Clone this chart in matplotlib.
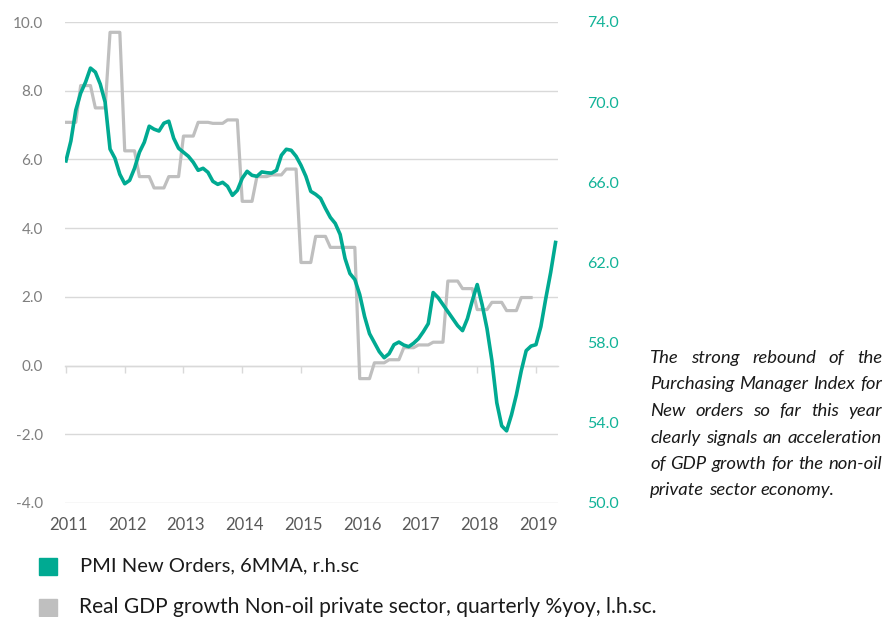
import matplotlib
matplotlib.use('Agg')
import matplotlib.pyplot as plt
import matplotlib.transforms as mtransforms
import numpy as np

plt.rcParams['font.family'] = ['Lato', 'DejaVu Sans']

# ---------------- data ----------------
# Real GDP growth, non-oil private sector, quarterly %yoy (2011Q1 .. 2018Q4), left scale
gdp_quarterly = [7.08, 8.15, 7.5, 9.7, 6.25, 5.5, 5.17, 5.5,
                 6.68, 7.08, 7.05, 7.15, 4.78, 5.5, 5.55, 5.72,
                 3.0, 3.76, 3.44, 3.44, -0.38, 0.08, 0.17, 0.52,
                 0.6, 0.68, 2.46, 2.24, 1.63, 1.84, 1.6, 1.98]

# PMI New Orders, 6MMA, monthly from Jan 2011, right scale
pmi_monthly = [67.07, 68.06, 69.6, 70.45, 71.0, 71.7, 71.5, 70.9, 70.0, 67.66,
               67.2, 66.4, 65.93, 66.1, 66.7, 67.5, 68.0, 68.8, 68.65, 68.56,
               68.95, 69.05, 68.2, 67.7, 67.5, 67.3, 67.0, 66.6, 66.7, 66.5,
               66.05, 65.9, 66.0, 65.8, 65.35, 65.6, 66.2, 66.55, 66.35, 66.3,
               66.52, 66.48, 66.46, 66.6, 67.35, 67.65, 67.6, 67.3, 66.85, 66.3,
               65.55, 65.4, 65.2, 64.7, 64.25, 63.95, 63.4, 62.2, 61.45, 61.15,
               60.4, 59.3, 58.45, 58.0, 57.55, 57.25, 57.45, 57.9, 58.03, 57.88,
               57.8, 57.97, 58.2, 58.55, 58.95, 60.5, 60.25, 59.9, 59.55, 59.2,
               58.85, 58.6, 59.2, 60.1, 60.9, 59.9, 58.7, 57.1, 55.0, 53.85,
               53.6, 54.4, 55.4, 56.6, 57.6, 57.83, 57.9, 58.8, 60.2, 61.5,
               63.0]

year_labels = ['2011', '2012', '2013', '2014', '2015', '2016', '2017', '2018', '2019']
left_ticks = [-4, -2, 0, 2, 4, 6, 8, 10]
right_ticks = [50, 54, 58, 62, 66, 70, 74]

legend_labels = ['PMI New Orders, 6MMA, r.h.sc',
                 'Real GDP growth Non-oil private sector, quarterly %yoy, l.h.sc.']

note_lines = ['The strong rebound of the',
              'Purchasing Manager Index for',
              'New orders so far this year',
              'clearly signals an acceleration',
              'of GDP growth for the non-oil',
              'private sector economy.']

# ---------------- styling ----------------
TEAL = '#00AA92'
TEAL_LABEL = '#12B398'
GREY = '#BFBFBF'
GRID = '#D9D9D9'
LABEL_GREY = '#7F7F7F'
YEAR_GREY = '#595959'

W, H = 890, 617
fig = plt.figure(figsize=(W / 100, H / 100), dpi=100)
ax_l, ax_r_px, ax_t, ax_b = 65, 558, 22, 503
ax = fig.add_axes([ax_l / W, 1 - ax_b / H, (ax_r_px - ax_l) / W, (ax_b - ax_t) / H])
ax2 = ax.twinx()

gdp_monthly = np.repeat(gdp_quarterly, 3)
x_gdp = np.arange(len(gdp_monthly))
x_pmi = np.arange(len(pmi_monthly))

ax.plot(x_gdp, gdp_monthly, color=GREY, lw=2.3, solid_joinstyle='round', zorder=3)
ax2.plot(x_pmi, pmi_monthly, color=TEAL, lw=2.6, solid_joinstyle='round', zorder=3)

ax.set_xlim(-0.2, 100.5)
ax.set_ylim(-4, 10)
ax2.set_ylim(50, 74)

ax.set_yticks(left_ticks)
ax.set_yticklabels([f'{v:.1f}' for v in left_ticks])
ax2.set_yticks(right_ticks)
ax2.set_yticklabels([f'{v:.1f}' for v in right_ticks])

ax.grid(axis='y', color=GRID, lw=1.0)
ax.set_axisbelow(True)

for a in (ax, ax2):
    for s in ('left', 'right', 'top'):
        a.spines[s].set_visible(False)
ax2.spines['bottom'].set_visible(False)

# x axis line through zero with small downward ticks every January
year_ticks = np.arange(0, 12 * len(year_labels), 12)
ax.spines['bottom'].set_position(('data', 0))
ax.spines['bottom'].set_color(GRID)
ax.spines['bottom'].set_linewidth(1.0)
ax.set_xticks(year_ticks)
ax.tick_params(axis='x', direction='out', length=5, width=1.0, color=GRID,
               labelbottom=False)

ax.tick_params(axis='y', length=0, pad=16, labelsize=11, labelcolor=LABEL_GREY)
ax2.tick_params(axis='y', length=0, pad=21, labelsize=11.5, labelcolor=TEAL_LABEL)

# year labels along the bottom of the chart
lab_trans = mtransforms.blended_transform_factory(ax.transData, fig.transFigure)
for xm, lab in zip(year_ticks, year_labels):
    ax.text(xm + 0.5, 1 - 525 / H, lab, transform=lab_trans, ha='center', va='center',
            fontsize=12, color=YEAR_GREY)

# legend
fig.patches.append(plt.Rectangle((39 / W, 1 - 575 / H), 18 / W, 17 / H,
                                 transform=fig.transFigure, color=TEAL, figure=fig))
fig.patches.append(plt.Rectangle((39 / W, 1 - 616 / H), 18 / W, 17 / H,
                                 transform=fig.transFigure, color=GREY, figure=fig))
fig.text(80 / W, 1 - 566 / H, legend_labels[0], fontsize=14.5, color='#1a1a1a',
         ha='left', va='center')
fig.text(79 / W, 1 - 607 / H, legend_labels[1], fontsize=15.1, color='#1a1a1a',
         ha='left', va='center')

# justified italic note on the right
fig.canvas.draw()
renderer = fig.canvas.get_renderer()
x0, x1 = 650, 882
baselines = [363, 389, 416, 443, 469, 495]
for li, (line, yb) in enumerate(zip(note_lines, baselines)):
    words = line.split()
    texts = [fig.text(0, 1 - yb / H, w, fontsize=13.3, style='italic', color='#1a1a1a',
                      ha='left', va='baseline') for w in words]
    widths = [t.get_window_extent(renderer).width for t in texts]
    if li < len(note_lines) - 1 and len(words) > 1:
        gap = (x1 - x0 - sum(widths)) / (len(words) - 1)
    else:
        gap = texts[0].get_window_extent(renderer).height * 0.3
    xcur = x0
    for t, w in zip(texts, widths):
        t.set_x(xcur / W)
        xcur += w + gap

fig.savefig('out.png', dpi=100)
